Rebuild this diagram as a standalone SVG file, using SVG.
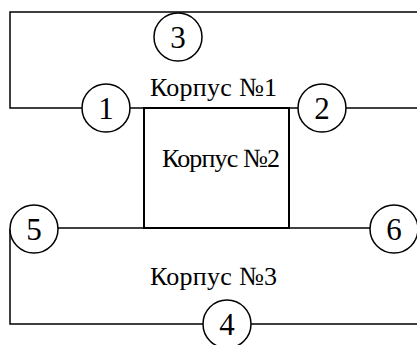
<svg xmlns="http://www.w3.org/2000/svg" width="417" height="345" viewBox="0 0 417 345">
<style>
.ln{fill:none;stroke:#000;stroke-width:1.5}
.bx{fill:none;stroke:#000;stroke-width:2}
.c{fill:#fff;stroke:#000;stroke-width:1.5}
text{font-family:"Liberation Serif","Times New Roman",serif}
.d{font-size:31px;text-anchor:middle}
.t{font-size:26px}
</style>
<rect width="417" height="345" fill="#fff"/>
<g id="connectors">
<polyline class="ln" points="417,12 10,12 10,108 106,108"/>
<line class="ln" x1="106" y1="108" x2="417" y2="108"/>
<line class="ln" x1="34" y1="228" x2="394" y2="228"/>
<polyline class="ln" points="10,229 10,324 417,324"/>
</g>
<g id="korpus2">
<rect class="bx" x="144" y="108" width="145" height="120"/>
<text class="t" x="162" y="167" textLength="118">Корпус №2</text>
</g>
<g id="korpus1"><text class="t" x="150" y="96" textLength="127">Корпус №1</text></g>
<g id="korpus3"><text class="t" x="150" y="285" textLength="127">Корпус №3</text></g>
<g id="n3"><circle class="c" cx="178" cy="37" r="24"/><text class="d" x="178" y="48">3</text></g>
<g id="n1"><circle class="c" cx="106" cy="108" r="24"/><text class="d" x="106" y="119">1</text></g>
<g id="n2"><circle class="c" cx="322" cy="108" r="24"/><text class="d" x="322" y="119">2</text></g>
<g id="n5"><circle class="c" cx="34" cy="229" r="24"/><text class="d" x="34" y="240">5</text></g>
<g id="n6"><circle class="c" cx="394" cy="229" r="24"/><text class="d" x="394" y="240">6</text></g>
<g id="n4"><circle class="c" cx="227" cy="324" r="24"/><text class="d" x="227" y="335">4</text></g>
</svg>
